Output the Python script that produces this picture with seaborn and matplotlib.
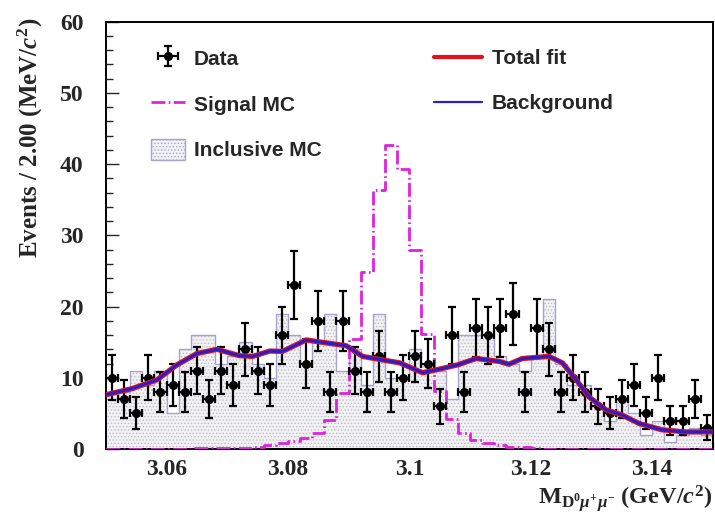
import numpy as np
import pandas as pd
import matplotlib
matplotlib.use("Agg")
import matplotlib.pyplot as plt
from matplotlib.ticker import MultipleLocator, FuncFormatter
from matplotlib.patches import Patch
from matplotlib.lines import Line2D
import seaborn as sns

# ---- binning: 2 MeV bins between 3.05 and 3.15 GeV/c^2 ----
mass_lo, mass_hi, n_bins = 3.05, 3.15, 50

# ---- observed events per bin ----
data_counts = [10, 7, 5, 10, 8, 9, 8, 11, 7, 11,
               9, 14, 11, 9, 16, 23, 12, 18, 8, 18,
               11, 8, 13, 8, 10, 13, 12, 6, 16, 8,
               17, 16, 17, 19, 8, 17, 14, 8, 10, 8,
               6, 5, 7, 9, 5, 10, 4, 4, 7, 3]

# ---- inclusive MC (normalised) ----
inclusive_mc = [7, 8, 11, 9, 11, 5, 14, 16, 16, 12,
                13, 15, 12, 10, 19, 16, 12, 15, 19, 11,
                14, 9, 19, 10, 10, 14, 12, 11, 7, 16,
                16, 16, 13, 12, 11, 13, 21, 12, 9, 9,
                6, 4, 7, 5, 2, 4, 1, 2, 3, 2]

# ---- signal MC (arbitrary normalisation) ----
signal_mc = [0, 0, 0, 0, 0, 0, 0, 0.15, 0.15, 0.15,
             0.15, 0.15, 0.35, 0.5, 0.8, 1.1, 1.5, 2.2, 4.1, 7.8,
             15.5, 24.9, 36.4, 42.6, 39.3, 27.9, 16.2, 8.2, 4.2, 2.2,
             1.3, 0.8, 0.5, 0.35, 0.25, 0.2, 0, 0, 0, 0,
             0, 0, 0, 0, 0, 0, 0, 0, 0, 0]

# ---- fit curves (total fit and background shape) ----
fit_mass = [3.0500, 3.0544, 3.0584, 3.0617, 3.0650, 3.0683, 3.0720, 3.0742,
            3.0770, 3.0791, 3.0830, 3.0863, 3.0896, 3.0923, 3.0956, 3.0984,
            3.1022, 3.1054, 3.1079, 3.1110, 3.1148, 3.1164, 3.1186, 3.1230,
            3.1252, 3.1275, 3.1296, 3.1324, 3.1350, 3.1378, 3.1416, 3.1455,
            3.1500]
fit_bkg = [7.6, 8.5, 9.7, 11.8, 13.4, 14.0, 13.1, 13.0,
           13.75, 13.7, 15.3, 14.9, 14.5, 13.0, 12.5, 12.1,
           10.7, 11.3, 11.8, 12.7, 12.3, 11.9, 12.7, 13.0,
           12.1, 9.7, 7.3, 5.5, 4.8, 3.6, 2.7, 2.4,
           2.4]
fit_total = [7.6, 8.5, 9.7, 11.8, 13.4, 14.0, 13.1, 13.0,
             13.75, 13.7, 15.3, 14.9, 14.5, 13.0, 12.5, 12.1,
             10.7, 11.3, 11.8, 12.7, 12.3, 11.9, 12.7, 13.0,
             12.1, 9.7, 7.3, 5.5, 4.8, 3.6, 2.7, 2.4,
             2.4]

edges = np.linspace(mass_lo, mass_hi, n_bins + 1)
centers = 0.5 * (edges[:-1] + edges[1:])
half_width = 0.5 * (edges[1] - edges[0])
bin_edges = list(edges)

hist_df = pd.DataFrame({"mass": centers, "inclusive": inclusive_mc,
                        "signal": signal_mc, "data": data_counts})
fit_df = pd.DataFrame({"mass": fit_mass, "total": fit_total, "bkg": fit_bkg})

sns.set_style("ticks")
plt.rcParams.update({
    "font.family": ["Liberation Serif", "DejaVu Serif"],
    "font.weight": "bold",
    "mathtext.fontset": "custom",
    "mathtext.rm": "Liberation Serif:bold",
    "mathtext.it": "Liberation Serif:bold:italic",
    "mathtext.bf": "Liberation Serif:bold",
    "hatch.color": "#bcbcc4",
    "hatch.linewidth": 0.6,
})

MAGENTA = "#dd22dd"
MC_FACE = "#f2f2f5"
MC_EDGE = "#a4a4cc"
sig_style = (0, (5, 1.2, 0.6, 1.2))

fig = plt.figure(figsize=(7.15, 5.16), dpi=100)
ax = fig.add_axes([0.148, 0.1298, 0.849, 0.8285])

# inclusive MC: dotted fill plus thin outline
sns.histplot(data=hist_df, x="mass", weights="inclusive", bins=bin_edges,
             element="step", fill=True, color=MC_FACE, edgecolor="#bcbcc4",
             linewidth=0, hatch=".....", alpha=1, ax=ax, zorder=1)
sns.histplot(data=hist_df, x="mass", weights="inclusive", bins=bin_edges,
             element="step", fill=False, color=MC_EDGE, linewidth=1.0,
             ax=ax, zorder=2)

# signal MC
sns.histplot(data=hist_df, x="mass", weights="signal", bins=bin_edges,
             element="step", fill=False, color=MAGENTA, linewidth=2.0,
             linestyle=sig_style, ax=ax, zorder=3)

# data with Poisson errors
data_arr = hist_df["data"].to_numpy(dtype=float)
data_h = ax.errorbar(hist_df["mass"], data_arr, yerr=np.sqrt(data_arr),
                     xerr=half_width, fmt="o", color="black", ms=5.5,
                     elinewidth=1.6, capsize=3, capthick=1.6, zorder=4)

# fit curves
sns.lineplot(data=fit_df, x="mass", y="total", color="#e8101a",
             linewidth=3.8, ax=ax, zorder=5)
sns.lineplot(data=fit_df, x="mass", y="bkg", color="#2a1ec8",
             linewidth=2.2, ax=ax, zorder=6)

ax.set_xlim(mass_lo, mass_hi)
ax.set_ylim(0, 60)
ax.xaxis.set_major_locator(MultipleLocator(0.02))
ax.xaxis.set_minor_locator(MultipleLocator(0.005))
ax.yaxis.set_major_locator(MultipleLocator(10))
ax.yaxis.set_minor_locator(MultipleLocator(2))
ax.xaxis.set_major_formatter(FuncFormatter(lambda v, p: f"{v:.2f}".rstrip("0")))
ax.tick_params(axis="both", which="both", direction="in", top=False,
               right=False, labelsize=17, width=1.0)
ax.tick_params(axis="both", which="major", length=9)
ax.tick_params(axis="both", which="minor", length=5)
ax.tick_params(axis="x", which="major", pad=7)
ax.tick_params(axis="y", which="major", pad=16)
for lab in ax.get_xticklabels() + ax.get_yticklabels():
    lab.set_fontweight("bold")
for s in ax.spines.values():
    s.set_visible(True)
    s.set_linewidth(1.4)
    s.set_color("black")

ax.set_xlabel("")
ax.set_ylabel("")
fig.text(0.043, 0.965, r"Events / 2.00 (MeV/$c^{2}$)", rotation=90,
         ha="center", va="top", fontsize=18, fontweight="bold")
fig.text(0.997, 0.004, r"$\mathrm{M}_{\mathrm{D^{0}}\mu^{+}\mu^{-}}$ (GeV/$c^{2}$)",
         ha="right", va="bottom", fontsize=17.5, fontweight="bold")

# legends
leg_font = {"family": ["Liberation Sans", "DejaVu Sans"], "weight": "bold",
            "size": 15}
sig_handle = Line2D([], [], color=MAGENTA, linewidth=2.0, linestyle=sig_style)
mc_handle = Patch(facecolor=MC_FACE, edgecolor=MC_EDGE, hatch=".....",
                  linewidth=1.0)
leg1 = ax.legend([data_h, sig_handle, mc_handle],
                 ["Data", "Signal MC", "Inclusive MC"],
                 loc="upper left", bbox_to_anchor=(0.075, 0.94),
                 frameon=False, prop=leg_font, handlelength=1.6,
                 handleheight=1.2, handletextpad=0.45, labelspacing=1.15,
                 borderaxespad=0, borderpad=0)
ax.add_artist(leg1)
tot_handle = Line2D([], [], color="#e8101a", linewidth=3.0)
bkg_handle = Line2D([], [], color="#2a1ec8", linewidth=1.6)
ax.legend([tot_handle, bkg_handle], ["Total fit", "Background"],
          loc="upper left", bbox_to_anchor=(0.54, 0.936), frameon=False,
          prop=leg_font, handlelength=2.3, handletextpad=0.5,
          labelspacing=1.25, borderaxespad=0, borderpad=0)

fig.savefig("out.png", dpi=100)
